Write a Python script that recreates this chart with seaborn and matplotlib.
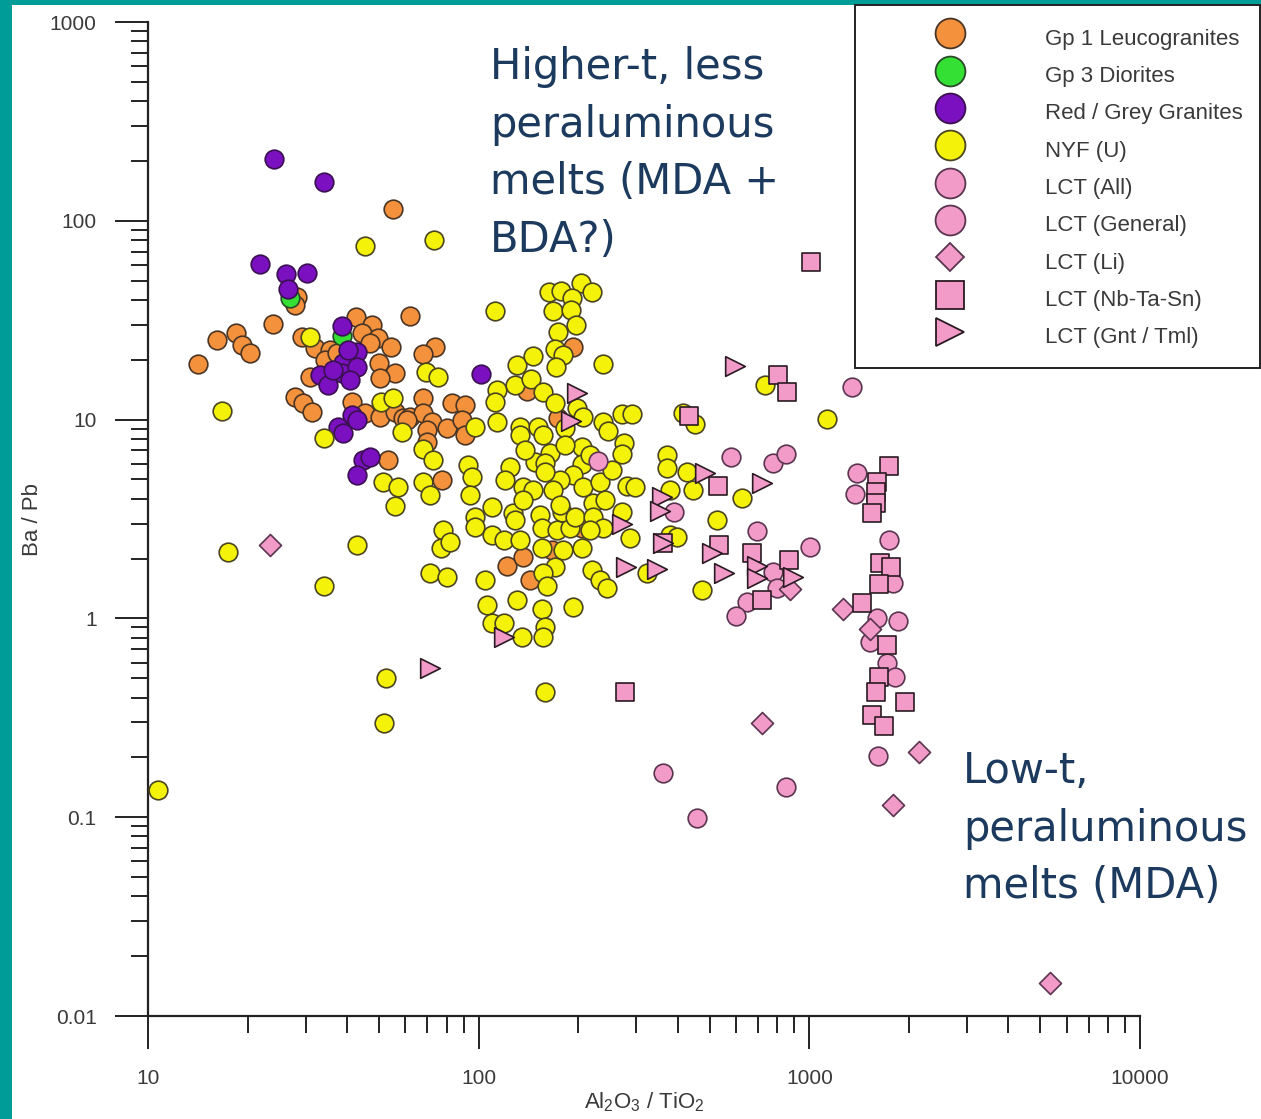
import matplotlib
matplotlib.use('Agg')
import matplotlib.pyplot as plt
import pandas as pd
import seaborn as sns
from matplotlib.lines import Line2D
from matplotlib.patches import Rectangle
from matplotlib.ticker import LogLocator, NullFormatter

# Al2O3/TiO2 (x) and Ba/Pb (y)

# Gp 1 Leucogranites
leuco_x = [55.1, 28.2, 27.8, 23.9, 18.5, 16.2, 19.2, 20.3, 14.2, 61.9,
           42.6, 47.6, 44.4, 49.6, 46.9, 54.3, 73.8, 67.9, 29.2, 32.0,
           35.5, 34.3, 37.3, 30.9, 50.0, 55.8, 50.3, 27.8, 29.4, 31.3,
           41.4, 67.9, 83.0, 90.9, 45.3, 50.3, 55.8, 59.0, 61.9, 67.9,
           72.3, 69.8, 69.8, 80.2, 89.0, 90.9, 53.2, 77.5, 140, 193,
           174, 122, 136, 143, 167, 205, 60.7]
leuco_y = [115, 41.4, 37.7, 30.3, 27.3, 25.1, 23.7, 21.6, 19.1, 33.2,
           32.8, 29.9, 27.3, 25.7, 24.3, 23.2, 23.2, 21.4, 26.0, 22.9,
           22.4, 20.0, 21.6, 16.4, 19.3, 17.2, 16.2, 13.0, 12.1, 10.9,
           12.3, 12.9, 12.1, 11.8, 10.8, 10.3, 10.9, 10.2, 10.3, 10.8,
           9.73, 8.87, 7.71, 9.08, 9.95, 8.37, 6.26, 4.97, 13.9, 23.2,
           10.2, 1.84, 2.04, 1.56, 2.21, 2.85, 9.95]

# Gp 3 Diorites
diorite_x = [26.9, 38.6]
diorite_y = [40.9, 26.3]

# Red / Grey Granites
granite_x = [24.0, 34.0, 21.8, 26.1, 30.3, 26.5, 38.6, 42.9, 38.9, 33.1,
             38.6, 35.0, 42.9, 40.8, 41.4, 42.9, 37.6, 38.9, 44.7, 46.9,
             42.9, 101.6, 36.3, 40.3]
granite_y = [205, 157, 60.7, 54.0, 54.7, 45.4, 29.6, 21.9, 19.3, 16.8,
             17.2, 14.9, 18.4, 15.8, 10.5, 9.95, 9.18, 8.57, 6.26, 6.49,
             5.26, 17.0, 17.7, 22.4]

# NYF (U)
nyf_x = [10.7, 16.7, 17.5, 34.0, 42.9, 52.5, 51.7, 34.0, 45.3, 73.3,
         30.9, 69.3, 75.3, 50.7, 55.1, 58.6, 67.9, 72.8, 51.4, 57.0,
         55.8, 67.9, 71.3, 92.9, 95.5, 94.2, 97.5, 97.5, 78.0, 76.9,
         81.9, 71.3, 80.2, 104.5, 106, 97.5, 112, 113.5, 112, 113.5,
         163, 177, 204, 220, 191, 168, 190, 197, 174, 170,
         180, 171, 238, 131, 146, 129, 144, 156, 170, 198,
         207, 238, 246, 271, 291, 133, 133, 151, 156, 182,
         205, 275, 271, 371, 371, 427, 451, 415, 164, 124,
         148, 159, 205, 193, 176, 159, 136, 146, 168, 207,
         233, 281, 297, 379, 445, 110, 110, 119, 127, 136,
         153, 133, 155, 173, 155, 180, 189, 205, 179, 195,
         222, 222, 241, 238, 271, 287, 170, 156, 161, 131,
         155, 193, 220, 233, 244, 323, 379, 473, 110, 119,
         135, 159, 156, 159, 526, 735, 1130, 625, 398, 138,
         182, 217, 120, 253, 176, 217, 129]
nyf_y = [0.137, 11.0, 2.16, 1.46, 2.34, 0.501, 0.298, 8.07, 74.6, 80.0,
         26.0, 17.4, 16.4, 12.3, 12.9, 8.67, 7.11, 6.26, 4.85, 4.58,
         3.67, 4.85, 4.18, 5.91, 5.14, 4.18, 3.24, 2.88, 2.79, 2.26,
         2.42, 1.69, 1.61, 1.56, 1.17, 9.18, 35.2, 14.1, 12.3, 9.73,
         43.9, 44.4, 48.7, 43.9, 40.9, 35.2, 35.6, 29.9, 27.6, 22.6,
         21.1, 18.4, 19.1, 18.8, 20.9, 14.9, 16.0, 13.8, 12.1, 11.4,
         10.3, 9.73, 8.77, 10.7, 10.7, 9.18, 8.37, 9.18, 8.37, 9.08,
         7.28, 7.62, 6.71, 6.64, 5.71, 5.45, 9.51, 10.8, 6.79, 5.78,
         6.12, 6.05, 5.98, 5.26, 4.97, 5.45, 4.58, 4.43, 4.43, 4.58,
         4.85, 4.63, 4.58, 4.43, 4.43, 3.63, 2.63, 2.48, 3.39, 3.94,
         3.31, 2.48, 2.85, 2.79, 2.26, 2.21, 2.85, 2.26, 3.43, 3.24,
         3.80, 3.24, 3.94, 2.85, 3.43, 2.54, 1.82, 1.69, 1.46, 1.24,
         1.11, 1.14, 1.75, 1.56, 1.42, 1.69, 2.63, 1.39, 0.948, 0.948,
         0.805, 0.906, 0.805, 0.427, 3.13, 14.9, 10.1, 4.04, 2.57, 7.03,
         7.45, 6.64, 4.97, 5.57, 3.72, 2.79, 3.13]

# LCT (All)
lct_all_x = [1346, 579, 776, 850, 1393, 1374, 390, 695, 1005, 776,
             798, 647, 600, 230, 361, 457, 850]
lct_all_y = [14.6, 6.49, 6.05, 6.71, 5.38, 4.23, 3.43, 2.75, 2.29, 1.71,
             1.42, 1.21, 1.03, 6.19, 0.167, 0.099, 0.142]

# LCT (General)
lct_gen_x = [1742, 1791, 1600, 1854, 1527, 1718, 1816, 1614]
lct_gen_y = [2.48, 1.51, 1.00, 0.97, 0.760, 0.597, 0.507, 0.203]

# LCT (Li)
lct_li_x = [23.4, 719, 1791, 2147, 5346, 1264, 1527, 873]
lct_li_y = [2.34, 0.298, 0.115, 0.213, 0.0147, 1.11, 0.885, 1.41]

# LCT (Nb-Ta-Sn)
lct_nb_x = [1012, 805, 857, 433, 530, 1742, 1600, 1589, 1589, 1545,
            361, 533, 670, 867, 719, 1637, 1766, 1626, 1442, 1718,
            1626, 1589, 1945, 1545, 1683, 277]
lct_nb_y = [62.1, 16.8, 13.8, 10.4, 4.63, 5.85, 4.85, 4.32, 3.80, 3.39,
            2.39, 2.34, 2.13, 1.97, 1.24, 1.90, 1.82, 1.49, 1.19, 0.735,
            0.507, 0.427, 0.380, 0.327, 0.288, 0.427]

# LCT (Gnt / Tml)
lct_gnt_x = [596, 198, 190, 71.3, 119, 271, 279, 346, 358, 353,
             361, 508, 483, 719, 552, 695, 695, 891]
lct_gnt_y = [18.6, 13.6, 9.84, 0.563, 0.805, 2.99, 1.82, 1.77, 4.08, 3.47,
             2.39, 2.13, 5.38, 4.80, 1.69, 1.84, 1.60, 1.61]

GROUPS = [
    # label, x, y, marker, face, edge, s (plot), ms (legend)
    ('Gp 1 Leucogranites', leuco_x, leuco_y, 'o', '#F4913C', '#4a3525', 180, 21.5),
    ('Gp 3 Diorites', diorite_x, diorite_y, 'o', '#33E033', '#2a4a2a', 180, 21.5),
    ('Red / Grey Granites', granite_x, granite_y, 'o', '#7A10C0', '#3a1050', 180, 21.5),
    ('NYF (U)', nyf_x, nyf_y, 'o', '#F5F20A', '#4a4520', 180, 21.5),
    ('LCT (All)', lct_all_x, lct_all_y, 'o', '#F29BC9', '#5a3550', 180, 21.5),
    ('LCT (General)', lct_gen_x, lct_gen_y, 'o', '#F29BC9', '#5a3550', 180, 21.5),
    ('LCT (Li)', lct_li_x, lct_li_y, 'D', '#F29BC9', '#5a3550', 125, 14.5),
    ('LCT (Nb-Ta-Sn)', lct_nb_x, lct_nb_y, 's', '#F29BC9', '#2a1a22', 165, 20.0),
    ('LCT (Gnt / Tml)', lct_gnt_x, lct_gnt_y, '>', '#F29BC9', '#2a1a22', 200, 19.5),
]

W, H = 1261, 1119
TEAL = '#009C98'
NAVY = '#1B3A5E'

sns.set_theme(style='ticks')
plt.rcParams['font.family'] = ['Liberation Sans', 'DejaVu Sans']
plt.rcParams['mathtext.fontset'] = 'custom'
plt.rcParams['mathtext.rm'] = 'Liberation Sans'
plt.rcParams['mathtext.it'] = 'Liberation Sans:italic'

fig = plt.figure(figsize=(W / 100, H / 100), dpi=100)
fig.patch.set_facecolor(TEAL)
fig.add_artist(Rectangle((12 / W, 0), 1, 1 - 5 / H, transform=fig.transFigure,
                         facecolor='white', edgecolor='none', zorder=-10))

ax = fig.add_axes([148 / W, (H - 1016) / H, 992 / W, 994 / H])
ax.set_facecolor('none')

for label, xs, ys, marker, face, edge, size, _ in GROUPS:
    df = pd.DataFrame({'al_ti': xs, 'ba_pb': ys})
    sns.scatterplot(data=df, x='al_ti', y='ba_pb', marker=marker, s=size,
                    color=face, edgecolor=edge, linewidth=1.2, ax=ax,
                    legend=False, zorder=3)

ax.set_xscale('log')
ax.set_yscale('log')
ax.set_xlim(10, 10000)
ax.set_ylim(0.01, 1000)

ax.set_xticks([10, 100, 1000, 10000])
ax.set_xticklabels(['10', '100', '1000', '10000'])
ax.set_yticks([0.01, 0.1, 1, 10, 100, 1000])
ax.set_yticklabels(['0.01', '0.1', '1', '10', '100', '1000'])
ax.xaxis.set_minor_locator(LogLocator(base=10, subs=range(2, 10)))
ax.yaxis.set_minor_locator(LogLocator(base=10, subs=range(2, 10)))
ax.xaxis.set_minor_formatter(NullFormatter())
ax.yaxis.set_minor_formatter(NullFormatter())

ax.tick_params(which='major', direction='out', length=24, width=1.4,
               color='#222222', labelsize=15, labelcolor='#3a3a3a')
ax.tick_params(axis='y', which='major', pad=13)
ax.tick_params(axis='x', which='major', pad=14)
ax.tick_params(which='minor', direction='out', length=12, width=1.4, color='#222222')

sns.despine(ax=ax)
for side in ['left', 'bottom']:
    ax.spines[side].set_linewidth(1.6)
    ax.spines[side].set_color('#222222')

ax.set_ylabel('Ba / Pb', fontsize=16, color='#3a3a3a')
ax.set_xlabel(r'Al$_2$O$_3$ / TiO$_2$', fontsize=16, color='#3a3a3a')
ax.yaxis.set_label_coords(-0.106, 0.5)
ax.xaxis.set_label_coords(0.5, -0.075)

fig.text(490 / W, 1 - 46 / H, 'Higher-t, less\nperaluminous\nmelts (MDA +\nBDA?)',
         ha='left', va='top', fontsize=30, color=NAVY, family='DejaVu Sans',
         linespacing=1.47)
fig.text(963 / W, 1 - 750 / H, 'Low-t,\nperaluminous\nmelts (MDA)',
         ha='left', va='top', fontsize=30, color=NAVY, family='DejaVu Sans',
         linespacing=1.47)

handles = []
for label, xs, ys, marker, face, edge, size, ms in GROUPS:
    handles.append(Line2D([], [], linestyle='none', marker=marker, markersize=ms,
                          markerfacecolor=face, markeredgecolor=edge,
                          markeredgewidth=1.3, label=label))
leg = fig.legend(handles=handles, loc='upper left',
                 bbox_to_anchor=(855 / W, 1 - 5 / H), bbox_transform=fig.transFigure,
                 borderaxespad=0, fontsize=16, frameon=True, fancybox=False,
                 handlelength=7.0, handleheight=1.7, handletextpad=0.77,
                 labelspacing=0.33, borderpad=0.78)
leg.get_frame().set_edgecolor('#222222')
leg.get_frame().set_linewidth(1.4)
leg.get_frame().set_facecolor('white')
leg.get_frame().set_alpha(1)
for t in leg.get_texts():
    t.set_color('#3a3a3a')

fig.savefig('out.png', dpi=100, facecolor=fig.get_facecolor())
plt.close(fig)
